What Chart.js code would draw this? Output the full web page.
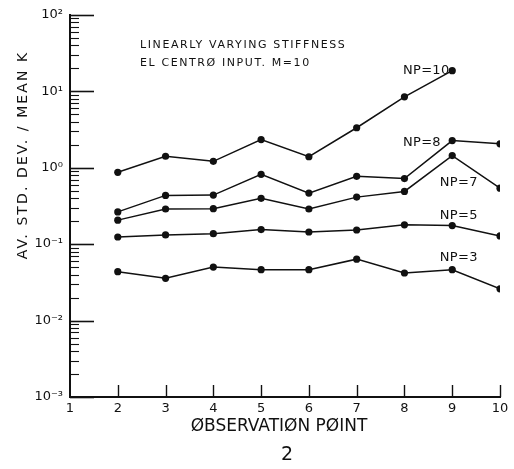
<!DOCTYPE html>
<html>
<head>
<meta charset="utf-8">
<script src="https://cdn.jsdelivr.net/npm/chart.js@4.4.1/dist/chart.umd.min.js"></script>
<style>
    html, body { margin: 0; padding: 0; background: #fff; }
    #wrap { width: 514px; height: 469px; }
</style>
</head>
<body>
<div id="wrap"><canvas id="stiffChart" width="514" height="469"></canvas></div>
<script>
// Observation points on the x axis
var obsPoints = [2, 3, 4, 5, 6, 7, 8, 9, 10];

// Av. std. dev. / mean K, one array per NP value (NP=10 stops at point 9)
var np10 = [0.87, 1.41, 1.21, 2.33, 1.39, 3.33, 8.46, 18.6];
var np8 = [0.264, 0.434, 0.438, 0.819, 0.465, 0.771, 0.721, 2.26, 2.05];
var np7 = [0.206, 0.288, 0.291, 0.397, 0.288, 0.412, 0.489, 1.44, 0.539];
var np5 = [0.124, 0.132, 0.137, 0.155, 0.144, 0.153, 0.179, 0.175, 0.128];
var np3 = [0.0436, 0.0357, 0.0501, 0.0463, 0.0463, 0.0636, 0.0419, 0.0463, 0.026];

var seriesNames = ['NP=10', 'NP=8', 'NP=7', 'NP=5', 'NP=3'];
var seriesValues = [np10, np8, np7, np5, np3];

// where each NP label sits (in data units)
var labelX = [7.97, 7.97, 8.74, 8.74, 8.74];
var labelY = [18.8, 2.13, 0.645, 0.234, 0.0668];

// Tick labels
var xTickValues = [1, 2, 3, 4, 5, 6, 7, 8, 9, 10];
var yTickValues = [0.001, 0.01, 0.1, 1, 10, 100];
var yTickLabels = ['10⁻³', '10⁻²', '10⁻¹', '10⁰', '10¹', '10²'];

var titleLines = ['LINEARLY VARYING STIFFNESS', 'EL CENTRØ INPUT. M=10'];
var xTitle = 'ØBSERVATIØN PØINT';
var yTitle = 'AV. STD. DEV. / MEAN K';
var figNumber = '2';

var ink = '#111';

// Build datasets for Chart.js
var datasets = seriesValues.map(function (vals, s) {
    return {
        label: seriesNames[s],
        data: vals.map(function (v, i) { return {x: obsPoints[i], y: v}; }),
        borderColor: ink,
        backgroundColor: ink,
        borderWidth: 1.5,
        pointRadius: 3.6,
        pointHoverRadius: 3.6,
        pointBackgroundColor: ink,
        pointBorderWidth: 0,
        tension: 0
    };
});

// Inward ticks, titles and series labels
var annotatePlugin = {
    id: 'annotate',
    afterDraw: function (chart) {
        var ctx = chart.ctx;
        var xs = chart.scales.x, ys = chart.scales.y;
        var area = chart.chartArea;
        ctx.save();
        ctx.strokeStyle = ink;
        ctx.fillStyle = ink;

        // y ticks (major at decades, minor at 2..9)
        for (var d = -3; d <= 2; d++) {
            for (var m = 1; m <= 9; m++) {
                var v = m * Math.pow(10, d);
                if (v > 100.0001) break;
                var py = Math.round(ys.getPixelForValue(v)) + 0.5;
                var len = (m === 1) ? 24 : 9;
                ctx.lineWidth = (m === 1) ? 1.6 : 1.1;
                ctx.beginPath();
                ctx.moveTo(area.left, py);
                ctx.lineTo(area.left + len, py);
                ctx.stroke();
            }
        }

        // x ticks pointing up
        ctx.lineWidth = 1.4;
        xTickValues.forEach(function (v) {
            if (v === xTickValues[0]) return;
            var px = Math.round(xs.getPixelForValue(v)) + 0.5;
            ctx.beginPath();
            ctx.moveTo(px, area.bottom);
            ctx.lineTo(px, area.bottom - 12);
            ctx.stroke();
        });

        // title lines
        ctx.textBaseline = 'middle';
        ctx.textAlign = 'left';
        ctx.font = '11px "DejaVu Sans"';
        ctx.letterSpacing = '1.6px';
        ctx.fillText(titleLines[0], 140, 45);
        ctx.fillText(titleLines[1], 140, 63);

        // series labels
        ctx.font = '13px "DejaVu Sans"';
        ctx.letterSpacing = '0.3px';
        seriesNames.forEach(function (name, s) {
            ctx.fillText(name, xs.getPixelForValue(labelX[s]), ys.getPixelForValue(labelY[s]));
        });

        // axis titles
        ctx.textAlign = 'center';
        ctx.font = '17px "DejaVu Sans"';
        ctx.letterSpacing = '0px';
        ctx.fillText(xTitle, 279, 427);
        ctx.font = '19px "DejaVu Sans"';
        ctx.fillText(figNumber, 287, 455);

        ctx.save();
        ctx.translate(23, 155);
        ctx.rotate(-Math.PI / 2);
        ctx.font = '14px "DejaVu Sans"';
        ctx.letterSpacing = '2.1px';
        ctx.fillText(yTitle, 0, 0);
        ctx.restore();

        ctx.restore();
    }
};

var ctx = document.getElementById('stiffChart').getContext('2d');
window.chartInstance = new Chart(ctx, {
    type: 'line',
    data: {datasets: datasets},
    plugins: [annotatePlugin],
    options: {
        responsive: false,
        animation: false,
        events: [],
        layout: {padding: {top: 10, right: 14, left: 0, bottom: 0}},
        plugins: {
            legend: {display: false},
            tooltip: {enabled: false}
        },
        scales: {
            x: {
                type: 'linear',
                min: 1,
                max: 10,
                afterBuildTicks: function (scale) {
                    scale.ticks = xTickValues.map(function (v) { return {value: v}; });
                },
                afterFit: function (scale) { scale.height = 72; },
                grid: {display: false, drawTicks: false},
                border: {display: true, color: ink, width: 2},
                ticks: {
                    padding: 4,
                    color: ink,
                    font: {family: 'DejaVu Sans', size: 13},
                    maxRotation: 0,
                    callback: function (value) { return String(value); }
                }
            },
            y: {
                type: 'logarithmic',
                min: 0.001,
                max: 100,
                afterBuildTicks: function (scale) {
                    scale.ticks = yTickValues.map(function (v) { return {value: v}; });
                },
                afterFit: function (scale) { scale.width = 70; },
                grid: {display: false, drawTicks: false},
                border: {display: true, color: ink, width: 2},
                ticks: {
                    padding: 7,
                    color: ink,
                    font: {family: 'DejaVu Sans', size: 13},
                    callback: function (value, index) { return yTickLabels[index]; }
                }
            }
        }
    }
});
</script>
</body>
</html>
